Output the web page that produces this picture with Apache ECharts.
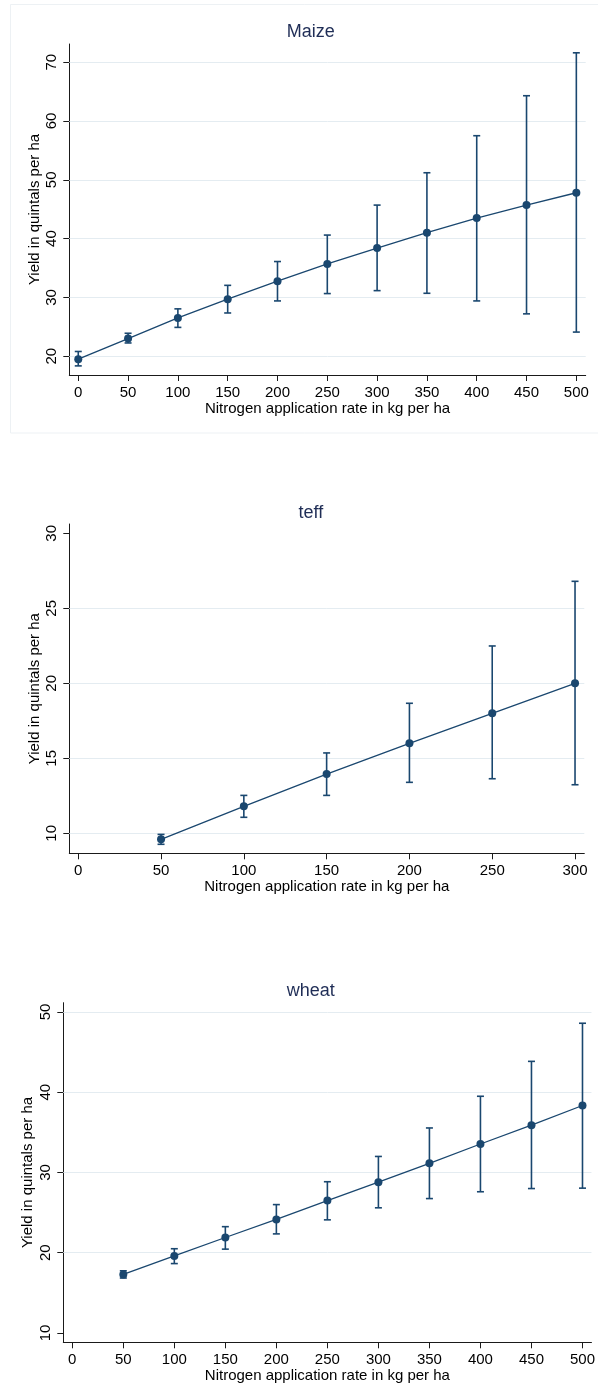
<!DOCTYPE html>
<html>
<head>
<meta charset="utf-8">
<script src="https://cdn.jsdelivr.net/npm/echarts@6/dist/echarts.min.js"></script>
<style>
html,body{margin:0;padding:0;background:#fff;}
#chart{width:598px;height:1394px;}
</style>
</head>
<body>
<div id="chart"></div>
<script>
// ---------- data ----------
const titles = ['Maize', 'teff', 'wheat'];
const xTitle = 'Nitrogen application rate in kg per ha';
const yTitle = 'Yield in quintals per ha';

const maizeN    = [0, 50, 100, 150, 200, 250, 300, 350, 400, 450, 500];
const maizeMean = [19.5, 23.0, 26.5, 29.7, 32.75, 35.7, 38.4, 41.0, 43.5, 45.7, 47.8];
const maizeLo   = [18.35, 22.25, 24.9, 27.35, 29.4, 30.65, 31.15, 30.7, 29.4, 27.2, 24.1];
const maizeHi   = [20.8, 23.9, 28.05, 32.05, 36.1, 40.6, 45.7, 51.2, 57.5, 64.3, 71.6];

const teffN    = [50, 100, 150, 200, 250, 300];
const teffMean = [9.6, 11.8, 13.95, 16.0, 18.0, 20.0];
const teffLo   = [9.27, 11.07, 12.53, 13.4, 13.64, 13.24];
const teffHi   = [9.93, 12.53, 15.36, 18.67, 22.49, 26.8];

const wheatN    = [50, 100, 150, 200, 250, 300, 350, 400, 450, 500];
const wheatMean = [17.3, 19.6, 21.9, 24.15, 26.5, 28.8, 31.15, 33.55, 35.9, 38.35];
const wheatLo   = [16.85, 18.65, 20.45, 22.35, 24.1, 25.6, 26.75, 27.6, 28.0, 28.05];
const wheatHi   = [17.75, 20.5, 23.25, 26.0, 28.85, 32.0, 35.55, 39.5, 43.85, 48.6];

const maizeXTicks = [0, 50, 100, 150, 200, 250, 300, 350, 400, 450, 500];
const maizeYTicks = [20, 30, 40, 50, 60, 70];
const maizeGridY  = [20, 30, 40, 50, 60, 70];
const teffXTicks  = [0, 50, 100, 150, 200, 250, 300];
const teffYTicks  = [10, 15, 20, 25, 30];
const teffGridY   = [10, 15, 20, 25];
const wheatXTicks = [0, 50, 100, 150, 200, 250, 300, 350, 400, 450, 500];
const wheatYTicks = [10, 20, 30, 40, 50];
const wheatGridY  = [20, 30, 40, 50];

// ---------- styling / layout ----------
const NAVY = '#1a476f';
const TXT = '#000000';
const AX = '#1a1a1a';
const GRIDC = '#e4ecf1';
const FONT = '"Liberation Sans", Arial, sans-serif';

const panels = [
  { n: maizeN, m: maizeMean, lo: maizeLo, hi: maizeHi, xt: maizeXTicks, yt: maizeYTicks, gy: maizeGridY,
    grid: { left: 69.3, right: 12.3, top: 44, height: 331 }, xr: [-9, 509.4], yr: [16.8, 73.1], titleTop: 18, yGap: 27 },
  { n: teffN, m: teffMean, lo: teffLo, hi: teffHi, xt: teffXTicks, yt: teffYTicks, gy: teffGridY,
    grid: { left: 69.3, right: 13.7, top: 524, height: 329.3 }, xr: [-5.4, 305.6], yr: [8.67, 30.62], titleTop: 499.5, yGap: 27 },
  { n: wheatN, m: wheatMean, lo: wheatLo, hi: wheatHi, xt: wheatXTicks, yt: wheatYTicks, gy: wheatGridY,
    grid: { left: 63.3, right: 5.7, top: 1002.7, height: 339.6 }, xr: [-8.8, 508.8], yr: [8.84, 51.16], titleTop: 977.5, yGap: 27.5 }
];

const option = {
  animation: false,
  backgroundColor: '#ffffff',
  textStyle: { fontFamily: FONT },
  title: panels.map((p, i) => ({
    text: titles[i], left: 305.8, top: p.titleTop, textAlign: 'center',
    textStyle: { fontSize: 18, fontWeight: 'normal', color: '#1f2d56', fontFamily: FONT }
  })),
  grid: panels.map(p => Object.assign({ containLabel: false }, p.grid)),
  xAxis: panels.map((p, i) => ({
    type: 'value', gridIndex: i, min: p.xr[0], max: p.xr[1],
    name: xTitle, nameLocation: 'middle', nameGap: 26, nameMoveOverlap: false,
    nameTextStyle: { fontSize: 15, color: TXT, fontFamily: FONT },
    axisLine: { show: true, onZero: false, lineStyle: { color: AX, width: 1 } },
    axisTick: { show: true, length: 6, customValues: p.xt, lineStyle: { color: AX, width: 1 } },
    axisLabel: { show: true, customValues: p.xt, margin: 10, fontSize: 15, color: TXT, fontFamily: FONT },
    splitLine: { show: false }
  })),
  yAxis: panels.map((p, i) => ({
    type: 'value', gridIndex: i, min: p.yr[0], max: p.yr[1],
    name: yTitle, nameLocation: 'middle', nameGap: p.yGap, nameMoveOverlap: false,
    nameTextStyle: { fontSize: 15, color: TXT, fontFamily: FONT },
    axisLine: { show: true, onZero: false, lineStyle: { color: AX, width: 1 } },
    axisTick: { show: true, length: 6, customValues: p.yt, lineStyle: { color: AX, width: 1 } },
    axisLabel: { show: true, customValues: p.yt, rotate: 90, margin: 10, fontSize: 15, color: TXT, fontFamily: FONT },
    splitLine: { show: false }
  })),
  graphic: [{
    type: 'rect', silent: true, z: -1,
    shape: { x: 10.5, y: 4.5, width: 600, height: 428.5 },
    style: { fill: 'none', stroke: '#edf1f4', lineWidth: 1 }
  }],
  series: []
};

panels.forEach((p, i) => {
  // error bars
  option.series.push({
    type: 'custom', xAxisIndex: i, yAxisIndex: i, z: 3,
    data: p.n.map((x, k) => [x, p.lo[k], p.hi[k]]),
    encode: { x: 0, y: [1, 2] },
    renderItem: function (params, api) {
      const x = api.value(0);
      const a = api.coord([x, api.value(1)]);
      const b = api.coord([x, api.value(2)]);
      const hw = 3.5;
      const st = { stroke: NAVY, lineWidth: 1.6, fill: 'none' };
      return {
        type: 'group',
        children: [
          { type: 'line', shape: { x1: a[0], y1: a[1], x2: b[0], y2: b[1] }, style: st },
          { type: 'line', shape: { x1: a[0] - hw, y1: a[1], x2: a[0] + hw, y2: a[1] }, style: st },
          { type: 'line', shape: { x1: b[0] - hw, y1: b[1], x2: b[0] + hw, y2: b[1] }, style: st }
        ]
      };
    }
  });
  // fitted line with markers
  option.series.push({
    type: 'line', xAxisIndex: i, yAxisIndex: i, z: 4,
    data: p.n.map((x, k) => [x, p.m[k]]),
    symbol: 'circle', symbolSize: 8,
    itemStyle: { color: NAVY },
    lineStyle: { color: NAVY, width: 1.3 },
    markLine: {
      silent: true, symbol: ['none', 'none'], label: { show: false },
      lineStyle: { color: GRIDC, type: 'solid', width: 1 },
      emphasis: { disabled: true },
      z: 1,
      data: p.gy.map(v => ({ yAxis: v }))
    }
  });
});

const chart = echarts.init(document.getElementById('chart'), null, { renderer: 'canvas' });
chart.setOption(option);
</script>
</body>
</html>
